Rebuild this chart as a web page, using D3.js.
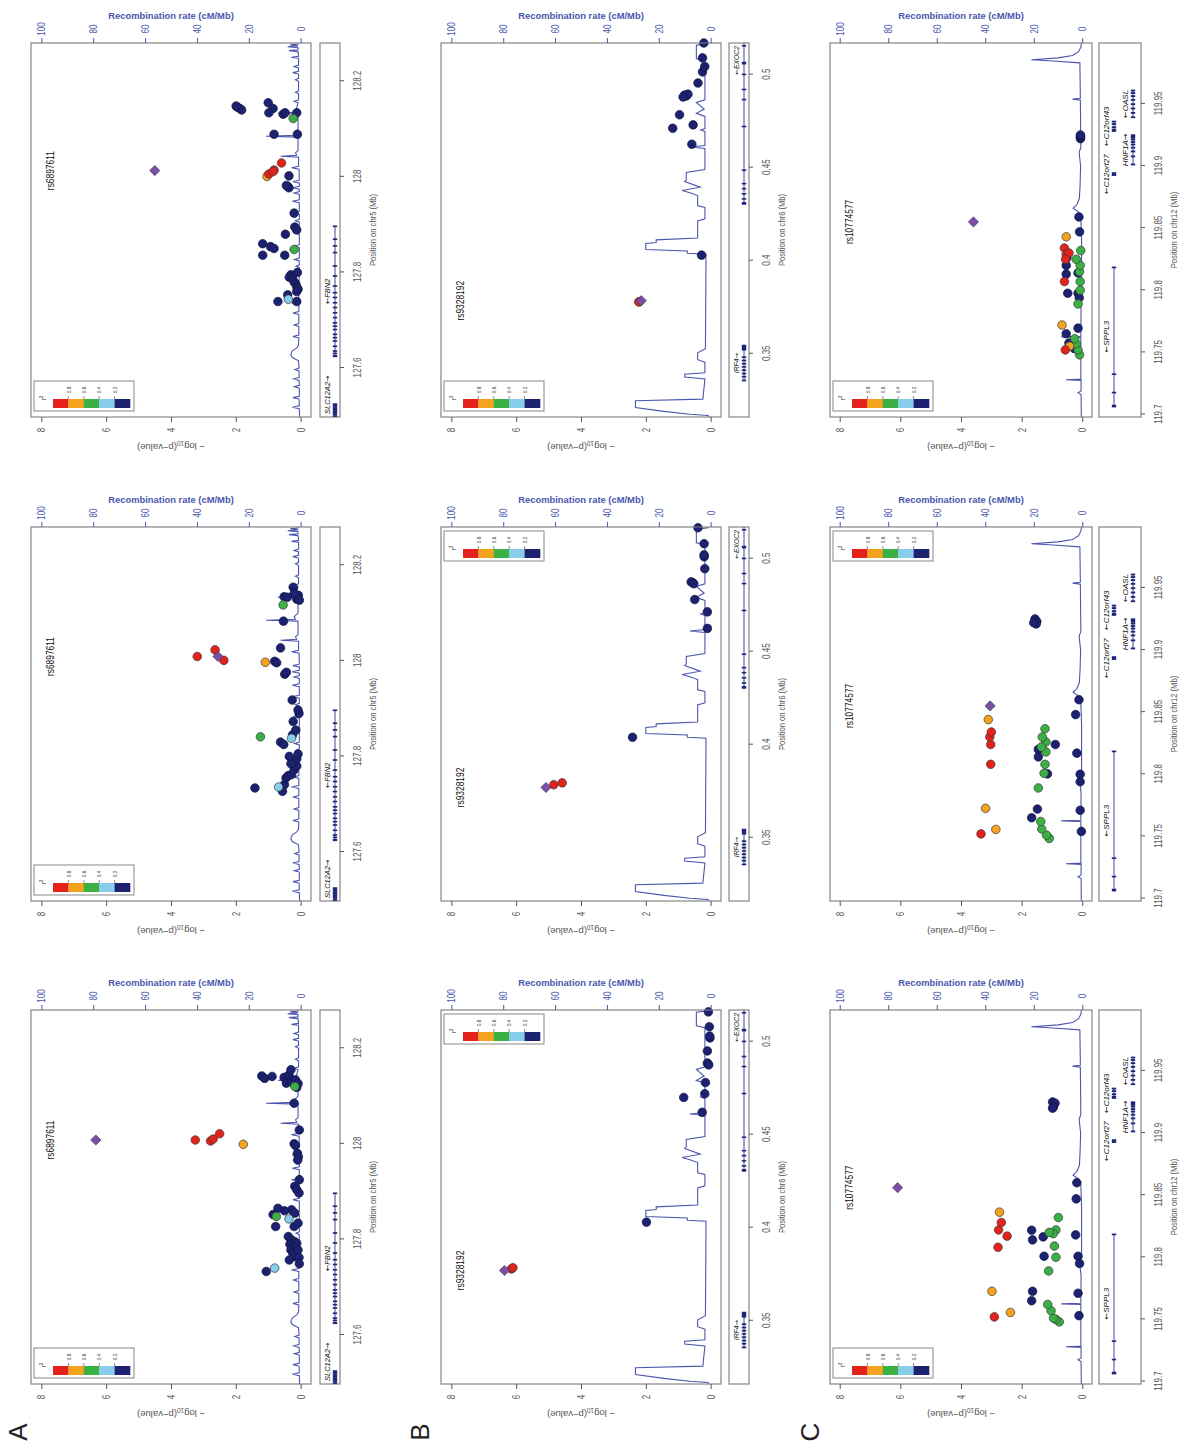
<!DOCTYPE html>
<html>
<head>
<meta charset="utf-8">
<script src="https://cdn.jsdelivr.net/npm/d3@7"></script>
<style>
  body { margin: 0; background: #fff; }
  text { font-family: "Liberation Sans", Arial, Helvetica, sans-serif; }
</style>
</head>
<body>
<svg id="fig" width="1181" height="1446"></svg>
<script>
// ===== DATA =====

// LD (r^2) classes: 0 = <0.2 ... 4 = >0.8, 5 = lead SNP
const ldBreaks = ['0.8', '0.6', '0.4', '0.2'];
const ldColors = ['#1c2170', '#88cdec', '#3bb044', '#f5a21e', '#e4221b'];
const leadColor = '#7b50a2';

const pvalTicks = [0, 2, 4, 6, 8];
const recombTicks = [0, 20, 40, 60, 80, 100];

const rangeA = [127.4975, 128.28];
const rangeB = [0.316, 0.517];
const rangeC = [119.698, 119.999];
const posTicksA = [127.6, 127.8, 128, 128.2];
const posTicksB = [0.35, 0.4, 0.45, 0.5];
const posTicksC = [119.7, 119.75, 119.8, 119.85, 119.9, 119.95];

// SNPs: [position Mb, -log10 p, LD class]
const snpsA1 = [
  [128.008, 6.32, 5],
  [128.008, 3.25, 4], [128.006, 2.78, 4], [128.010, 2.70, 4], [128.021, 2.50, 4],
  [127.999, 1.77, 3],
  [128.120, 0.18, 2], [127.848, 0.75, 2],
  [127.740, 0.80, 1], [127.843, 0.36, 1],
  [128.142, 1.20, 0], [128.137, 1.11, 0], [128.141, 0.88, 0], [128.139, 0.51, 0], [128.144, 0.36, 0],
  [128.127, 0.44, 0], [128.130, 0.28, 0], [128.134, 0.16, 0], [128.155, 0.30, 0], [128.118, 0.12, 0],
  [128.126, 0.08, 0], [128.085, 0.20, 0], [128.029, 0.04, 0], [128.000, 0.20, 0], [127.997, 0.16, 0],
  [127.980, 0.10, 0], [127.973, 0.07, 0], [127.966, 0.09, 0], [127.925, 0.04, 0], [127.911, 0.18, 0],
  [127.904, 0.12, 0], [127.897, 0.05, 0], [127.862, 0.28, 0], [127.855, 0.18, 0], [127.860, 0.50, 0],
  [127.865, 0.70, 0], [127.827, 0.77, 0], [127.852, 0.85, 0], [127.827, 0.20, 0], [127.834, 0.08, 0],
  [127.806, 0.38, 0], [127.799, 0.28, 0], [127.795, 0.18, 0], [127.792, 0.12, 0], [127.790, 0.33, 0],
  [127.785, 0.20, 0], [127.778, 0.30, 0], [127.771, 0.24, 0], [127.764, 0.16, 0], [127.757, 0.35, 0],
  [127.762, 0.05, 0], [127.778, 0.08, 0], [127.733, 1.06, 0], [127.749, 0.04, 0]
];
const snpsA2 = [
  [128.009, 2.55, 5],
  [128.009, 3.19, 4], [128.023, 2.64, 4], [128.001, 2.37, 4],
  [127.997, 1.09, 3],
  [127.841, 1.24, 2], [128.117, 0.54, 2],
  [127.736, 0.68, 1], [127.838, 0.28, 1],
  [127.734, 1.41, 0], [127.727, 0.56, 0], [127.741, 0.50, 0], [127.755, 0.45, 0], [127.760, 0.38, 0],
  [127.762, 0.28, 0], [127.772, 0.20, 0], [127.780, 0.12, 0], [127.790, 0.20, 0], [127.795, 0.12, 0],
  [127.805, 0.08, 0], [127.785, 0.30, 0], [127.800, 0.35, 0], [127.830, 0.62, 0], [127.825, 0.52, 0],
  [127.845, 0.25, 0], [127.855, 0.15, 0], [127.873, 0.23, 0], [127.890, 0.05, 0], [127.897, 0.08, 0],
  [127.918, 0.26, 0], [127.972, 0.49, 0], [127.976, 0.44, 0], [127.999, 0.80, 0], [127.996, 0.74, 0],
  [128.027, 0.62, 0], [128.083, 0.53, 0], [128.134, 0.51, 0], [128.133, 0.41, 0], [128.154, 0.23, 0],
  [128.129, 0.12, 0], [128.137, 0.07, 0], [128.127, 0.04, 0], [128.141, 0.20, 0]
];
const snpsA3 = [
  [128.013, 4.50, 5],
  [128.014, 0.82, 4], [128.029, 0.59, 4], [128.006, 0.98, 4], [128.011, 0.85, 4],
  [128.001, 1.04, 3],
  [128.122, 0.23, 2], [127.848, 0.20, 2],
  [127.744, 0.38, 1],
  [128.146, 1.95, 0], [128.143, 1.88, 0], [128.140, 1.82, 0], [128.148, 1.99, 0], [128.155, 1.00, 0],
  [128.143, 0.85, 0], [128.134, 0.98, 0], [128.131, 0.54, 0], [128.134, 0.48, 0], [128.134, 0.12, 0],
  [128.089, 0.82, 0], [128.089, 0.10, 0], [128.002, 0.36, 0], [127.980, 0.40, 0], [127.977, 0.36, 0],
  [127.982, 0.44, 0], [127.924, 0.20, 0], [127.895, 0.18, 0], [127.889, 0.12, 0], [127.880, 0.47, 0],
  [127.860, 1.17, 0], [127.854, 0.93, 0], [127.850, 0.82, 0], [127.836, 1.17, 0], [127.836, 0.49, 0],
  [127.795, 0.30, 0], [127.790, 0.35, 0], [127.787, 0.25, 0], [127.780, 0.20, 0], [127.776, 0.15, 0],
  [127.770, 0.12, 0], [127.765, 0.08, 0], [127.760, 0.12, 0], [127.753, 0.40, 0], [127.739, 0.70, 0],
  [127.739, 0.12, 0], [127.800, 0.10, 0]
];

const snpsB1 = [
  [0.3770, 6.36, 5], [0.3778, 6.15, 4], [0.3785, 6.10, 4],
  [0.4030, 1.98, 0], [0.4620, 0.26, 0], [0.4700, 0.83, 0], [0.4720, 0.18, 0], [0.4780, 0.16, 0],
  [0.4880, 0.08, 0], [0.4885, 0.10, 0], [0.4875, 0.06, 0], [0.4950, 0.10, 0], [0.5020, 0.02, 0],
  [0.5030, 0.03, 0], [0.5080, 0.04, 0], [0.5160, 0.07, 0]
];
const snpsB2 = [
  [0.3770, 5.08, 5], [0.3785, 4.84, 4], [0.3795, 4.58, 4],
  [0.4040, 2.41, 0], [0.4625, 0.10, 0], [0.4714, 0.10, 0], [0.4780, 0.49, 0], [0.4870, 0.55, 0],
  [0.4875, 0.60, 0], [0.4865, 0.52, 0], [0.4946, 0.18, 0], [0.5010, 0.20, 0], [0.5020, 0.20, 0],
  [0.5080, 0.20, 0], [0.5166, 0.39, 0]
];
const snpsB3 = [
  [0.3785, 2.14, 5], [0.3780, 2.20, 4], [0.3778, 2.22, 3],
  [0.4030, 0.28, 0], [0.4626, 0.58, 0], [0.4712, 1.17, 0], [0.4730, 0.54, 0], [0.4784, 0.96, 0],
  [0.4890, 0.80, 0], [0.4885, 0.75, 0], [0.4895, 0.70, 0], [0.4880, 0.85, 0], [0.4955, 0.39, 0],
  [0.5015, 0.25, 0], [0.5044, 0.18, 0], [0.5090, 0.25, 0], [0.5170, 0.21, 0]
];

const snpsC1 = [
  [119.856, 6.09, 5],
  [119.752, 2.90, 4], [119.808, 2.78, 4], [119.817, 2.48, 4], [119.822, 2.76, 4], [119.828, 2.67, 4],
  [119.7726, 2.98, 3], [119.7556, 2.37, 3], [119.8363, 2.73, 3],
  [119.748, 0.76, 2], [119.750, 0.87, 2], [119.751, 0.95, 2], [119.757, 1.03, 2], [119.762, 1.14, 2],
  [119.789, 1.11, 2], [119.800, 0.87, 2], [119.809, 0.92, 2], [119.822, 0.87, 2], [119.819, 0.96, 2],
  [119.820, 1.09, 2], [119.832, 0.79, 2],
  [119.753, 0.11, 0], [119.765, 1.67, 0], [119.7726, 1.64, 0], [119.771, 0.14, 0], [119.8008, 1.26, 0],
  [119.8008, 0.14, 0], [119.795, 0.09, 0], [119.814, 1.64, 0], [119.8218, 1.67, 0], [119.818, 0.22, 0],
  [119.8164, 1.29, 0], [119.847, 0.20, 0], [119.860, 0.18, 0], [119.925, 0.98, 0], [119.924, 0.90, 0],
  [119.921, 0.95, 0], [119.920, 0.98, 0]
];
const snpsC2 = [
  [119.855, 3.04, 5],
  [119.752, 3.34, 4], [119.808, 3.02, 4], [119.824, 3.02, 4], [119.830, 3.05, 4], [119.834, 3.00, 4],
  [119.7726, 3.19, 3], [119.7556, 2.85, 3], [119.844, 3.10, 3],
  [119.7484, 1.09, 2], [119.751, 1.18, 2], [119.756, 1.34, 2], [119.762, 1.37, 2], [119.789, 1.45, 2],
  [119.8008, 1.26, 2], [119.808, 1.23, 2], [119.818, 1.20, 2], [119.826, 1.20, 2], [119.8366, 1.23, 2],
  [119.822, 1.35, 2], [119.830, 1.32, 2],
  [119.754, 0.03, 0], [119.765, 1.67, 0], [119.772, 1.48, 0], [119.771, 0.07, 0], [119.794, 0.07, 0],
  [119.800, 0.07, 0], [119.8003, 1.15, 0], [119.817, 0.18, 0], [119.814, 1.45, 0], [119.820, 1.45, 0],
  [119.824, 0.89, 0], [119.848, 0.22, 0], [119.860, 0.11, 0], [119.925, 1.56, 0], [119.923, 1.50, 0],
  [119.921, 1.52, 0], [119.922, 1.60, 0]
];
const snpsC3 = [
  [119.855, 3.59, 5],
  [119.752, 0.56, 4], [119.807, 0.59, 4], [119.834, 0.59, 4], [119.829, 0.53, 4], [119.830, 0.44, 4],
  [119.825, 0.55, 4],
  [119.772, 0.67, 3], [119.755, 0.42, 3], [119.843, 0.53, 3],
  [119.748, 0.09, 2], [119.752, 0.14, 2], [119.757, 0.20, 2], [119.761, 0.25, 2], [119.789, 0.14, 2],
  [119.800, 0.07, 2], [119.807, 0.07, 2], [119.815, 0.09, 2], [119.820, 0.07, 2], [119.832, 0.05, 2],
  [119.825, 0.20, 2],
  [119.753, 0.26, 0], [119.7575, 0.44, 0], [119.765, 0.53, 0], [119.7695, 0.14, 0], [119.7976, 0.48, 0],
  [119.7976, 0.14, 0], [119.794, 0.10, 0], [119.813, 0.53, 0], [119.820, 0.53, 0], [119.826, 0.51, 0],
  [119.814, 0.14, 0], [119.847, 0.09, 0], [119.859, 0.11, 0], [119.922, 0.06, 0], [119.923, 0.06, 0],
  [119.924, 0.06, 0], [119.925, 0.06, 0]
];

// recombination rate: [position Mb, cM/Mb]
const recombA = [
  [127.497, 0.4], [127.515, 0.5], [127.518, 3.2], [127.521, 0.5], [127.535, 0.6], [127.538, 3], [127.541, 0.5],
  [127.558, 0.5], [127.561, 2.5], [127.564, 0.5], [127.574, 0.6], [127.577, 3], [127.580, 0.6], [127.594, 0.6],
  [127.597, 2.2], [127.600, 0.6], [127.615, 0.8], [127.622, 3.2], [127.628, 3.8], [127.636, 3.2], [127.642, 1.5],
  [127.648, 0.8], [127.663, 0.7], [127.666, 3], [127.669, 0.7], [127.687, 0.7], [127.690, 2.5], [127.693, 0.7],
  [127.712, 0.7], [127.715, 3], [127.718, 0.7], [127.733, 0.7], [127.736, 3.5], [127.739, 0.7], [127.754, 0.7],
  [127.757, 2.5], [127.760, 0.7], [127.775, 0.7], [127.778, 3], [127.781, 0.6], [127.810, 0.5], [127.813, 1.8],
  [127.816, 0.5], [127.824, 0.5], [127.827, 2.3], [127.830, 0.5], [127.852, 0.5], [127.855, 2.5], [127.858, 0.5],
  [127.880, 0.5], [127.883, 3], [127.886, 0.5], [127.905, 0.5], [127.908, 2], [127.911, 0.5], [127.922, 0.5],
  [127.925, 3.5], [127.928, 0.5], [127.946, 0.5], [127.949, 3.2], [127.952, 0.5], [127.963, 0.5], [127.966, 2.5],
  [127.969, 0.5], [127.974, 0.5], [127.977, 3.3], [127.980, 0.5], [127.987, 0.5], [127.990, 3], [127.993, 0.5],
  [128.016, 0.6], [128.019, 3.5], [128.022, 0.8], [128.041, 0.8], [128.043, 7.7], [128.045, 1.5], [128.050, 2],
  [128.055, 1], [128.083, 1], [128.085, 13.3], [128.087, 2], [128.092, 2.5], [128.100, 1], [128.131, 1],
  [128.133, 8.8], [128.135, 2], [128.145, 1.5], [128.155, 1], [128.158, 2.5], [128.161, 0.8], [128.174, 0.8],
  [128.177, 2], [128.180, 0.8], [128.200, 0.8], [128.203, 2], [128.206, 0.8], [128.215, 0.8], [128.218, 3],
  [128.221, 0.8], [128.228, 0.8], [128.231, 2.5], [128.234, 0.8], [128.248, 0.8], [128.250, 3.5], [128.252, 0.8],
  [128.262, 1], [128.264, 4.5], [128.266, 1], [128.270, 1], [128.272, 5], [128.274, 1], [128.276, 4],
  [128.278, 1], [128.280, 1]
];
const recombB = [
  [0.3160, 0.5], [0.3168, 1], [0.3175, 8], [0.3190, 18], [0.3211, 29], [0.3247, 29], [0.3256, 3],
  [0.3364, 2.2], [0.3375, 10], [0.3390, 10], [0.3398, 2.2], [0.3455, 2.2], [0.3468, 5], [0.3505, 5],
  [0.3527, 2], [0.3979, 1.8], [0.4035, 1.8], [0.4040, 9], [0.4052, 9], [0.4060, 25], [0.4093, 25],
  [0.4098, 21], [0.4112, 21], [0.4122, 5], [0.4214, 5], [0.4225, 2.2], [0.4286, 2.2], [0.4295, 5],
  [0.4350, 5], [0.4365, 8], [0.4377, 11], [0.4395, 4], [0.4425, 10], [0.4435, 9.4], [0.4474, 9.4],
  [0.4490, 2.2], [0.4603, 2.2], [0.4611, 8], [0.4619, 2.2], [0.4695, 2.2], [0.4702, 3.8], [0.4710, 2.2],
  [0.4775, 2.2], [0.4792, 5.5], [0.4815, 2.5], [0.4850, 5.5], [0.4865, 2.2], [0.5075, 2.2], [0.5085, 5.5],
  [0.5158, 5.5], [0.5166, 1], [0.5180, 1]
];
const recombC = [
  [119.698, 0.4], [119.716, 0.5], [119.7175, 1.8], [119.719, 0.5], [119.7275, 0.5], [119.728, 6.7],
  [119.7285, 0.6], [119.762, 0.6], [119.7625, 8.7], [119.763, 0.6], [119.785, 0.5], [119.790, 0.8],
  [119.797, 1.3], [119.800, 0.3], [119.840, 0.3], [119.858, 0.6], [119.863, 1.5], [119.866, 3.8],
  [119.869, 2.2], [119.874, 1.2], [119.885, 0.9], [119.900, 0.7], [119.911, 1.3], [119.915, 0.6],
  [119.953, 0.8], [119.9538, 4], [119.9545, 0.8], [119.983, 1], [119.9845, 12], [119.9855, 21],
  [119.987, 10], [119.989, 4], [119.992, 1.5], [119.996, 0.5], [119.999, 0.4]
];

// genes: strand, span, exons [start, end], track row
const genesA = [
  { name: 'SLC12A2', strand: 1, start: 127.420, end: 127.525, row: 0,
    exons: [[127.499, 127.5], [127.503, 127.504], [127.506, 127.507], [127.509, 127.510], [127.512, 127.513],
            [127.515, 127.516], [127.518, 127.519], [127.521, 127.522], [127.524, 127.525]] },
  { name: 'FBN2', strand: -1, start: 127.624, end: 127.897, row: 0,
    exons: [[127.624, 127.626], [127.630, 127.631], [127.635, 127.636], [127.645, 127.646], [127.656, 127.657],
            [127.663, 127.664], [127.670, 127.671], [127.680, 127.681], [127.687, 127.688], [127.694, 127.695],
            [127.705, 127.706], [127.715, 127.716], [127.726, 127.727], [127.736, 127.737], [127.747, 127.748],
            [127.757, 127.758], [127.771, 127.772], [127.792, 127.793], [127.813, 127.814], [127.841, 127.842],
            [127.855, 127.856], [127.869, 127.870], [127.896, 127.897]] }
];
const genesB = [
  { name: 'IRF4', strand: 1, start: 0.3355, end: 0.3545, row: 0,
    exons: [[0.3355, 0.3358], [0.3375, 0.3378], [0.3392, 0.3395], [0.3410, 0.3413], [0.3428, 0.3430],
            [0.3445, 0.3448], [0.3462, 0.3465], [0.3480, 0.3483], [0.3520, 0.3545]] },
  { name: 'EXOC2', strand: -1, start: 0.4304, end: 0.6400, row: 0,
    exons: [[0.4304, 0.4312], [0.4331, 0.4333], [0.4358, 0.4360], [0.4386, 0.4388], [0.4413, 0.4415],
            [0.4485, 0.4487], [0.4720, 0.4722], [0.4865, 0.4867], [0.4919, 0.4921], [0.5000, 0.5002],
            [0.5058, 0.5066], [0.5154, 0.5156]] }
];
const genesC = [
  { name: 'SPPL3', strand: -1, start: 119.7067, end: 119.8186, row: 0,
    exons: [[119.7062, 119.7074], [119.7175, 119.7178], [119.7323, 119.7326], [119.8182, 119.8186]] },
  { name: 'C12orf27', strand: -1, start: 119.8925, end: 119.8945, row: 0,
    exons: [[119.8925, 119.8945]] },
  { name: 'C12orf43', strand: -1, start: 119.928, end: 119.936, row: 0,
    exons: [[119.928, 119.9295], [119.931, 119.9315], [119.9335, 119.934], [119.9355, 119.936]] },
  { name: 'HNF1A', strand: 1, start: 119.901, end: 119.925, row: 1,
    exons: [[119.901, 119.9015], [119.9075, 119.908], [119.9115, 119.912], [119.9145, 119.915],
            [119.917, 119.9175], [119.919, 119.9195], [119.921, 119.9215], [119.9225, 119.925]] },
  { name: 'OASL', strand: -1, start: 119.939, end: 119.961, row: 1,
    exons: [[119.939, 119.9395], [119.9425, 119.943], [119.946, 119.9465], [119.9495, 119.95],
            [119.953, 119.9535], [119.956, 119.9565], [119.9585, 119.959], [119.9605, 119.961]] }
];

const loci = [
  { letter: 'A', chrom: 'chr5', lead: 'rs6897611', range: rangeA, ticks: posTicksA,
    recomb: recombA, genes: genesA, panels: [snpsA1, snpsA2, snpsA3] },
  { letter: 'B', chrom: 'chr6', lead: 'rs9328192', range: rangeB, ticks: posTicksB,
    recomb: recombB, genes: genesB, panels: [snpsB1, snpsB2, snpsB3] },
  { letter: 'C', chrom: 'chr12', lead: 'rs10774577', range: rangeC, ticks: posTicksC,
    recomb: recombC, genes: genesC, panels: [snpsC1, snpsC2, snpsC3] }
];

// ===== LAYOUT (un-rotated frame: u across, v down) =====
const panelLeft = [62, 545, 1029];
const panelWidth = 374;
const rows = [
  { top: 31, bottom: 311, geneTop: 320, geneBottom: 340, letterV: 18, geneFont: 7.5 },
  { top: 441, bottom: 721, geneTop: 729, geneBottom: 749, letterV: 420, geneFont: 6.8 },
  { top: 830, bottom: 1092, geneTop: 1099, geneBottom: 1141, letterV: 810, geneFont: 8 }
];
const legendSide = [['left', 'left', 'left'], ['right', 'right', 'left'], ['left', 'right', 'left']];

const SQ = 0.8;            // upright text looks narrow in the figure
const boxColor = '#7a7a7a';
const axisColor = '#555';
const recombColor = '#4a56ae';

const svg = d3.select('#fig');
const defs = svg.append('defs');
// whole figure is turned a quarter turn counter-clockwise
const root = svg.append('g').attr('transform', 'translate(0,1446) rotate(-90)');

function flatText(parent, u, v, str, size, fill) {
  const g = parent.append('g').attr('transform', `translate(${u},${v}) scale(${SQ},1)`);
  g.append('text')
    .attr('text-anchor', 'middle')
    .attr('dy', '0.35em')
    .attr('font-size', size)
    .attr('fill', fill || '#222')
    .text(str);
  return g;
}

function drawPanel(locus, li, pi) {
  const row = rows[li];
  const left = panelLeft[pi], right = left + panelWidth;
  const g = root.append('g');

  const x = d3.scaleLinear().domain(locus.range).range([left, right]);
  const y = d3.scaleLinear().domain([-0.32, 8.32]).range([row.bottom, row.top]);
  const yr = d3.scaleLinear().domain([-4, 104]).range([row.bottom, row.top]);

  const clipId = `clip-${li}-${pi}`;
  defs.append('clipPath').attr('id', clipId).append('rect')
    .attr('x', left).attr('y', row.top)
    .attr('width', panelWidth).attr('height', row.bottom - row.top);
  const geneClip = `gclip-${li}-${pi}`;
  defs.append('clipPath').attr('id', geneClip).append('rect')
    .attr('x', left).attr('y', row.geneTop)
    .attr('width', panelWidth).attr('height', row.geneBottom - row.geneTop);

  // recombination rate
  const line = d3.line().x(d => x(d[0])).y(d => yr(d[1]));
  g.append('path')
    .datum(locus.recomb)
    .attr('clip-path', `url(#${clipId})`)
    .attr('d', line)
    .attr('fill', 'none')
    .attr('stroke', recombColor)
    .attr('stroke-width', 1.1);

  // SNPs, low LD first
  const snps = locus.panels[pi].slice().sort((a, b) => a[2] - b[2]);
  g.append('g').selectAll('circle')
    .data(snps.filter(d => d[2] < 5))
    .join('circle')
    .attr('cx', d => x(d[0]))
    .attr('cy', d => y(d[1]))
    .attr('r', 4.3)
    .attr('fill', d => ldColors[d[2]])
    .attr('stroke', d => d[2] === 0 ? '#11153f' : '#3a3a3a')
    .attr('stroke-width', 0.7);

  const diamond = d3.symbol().type(d3.symbolSquare).size(52);
  g.append('g').selectAll('path')
    .data(snps.filter(d => d[2] === 5))
    .join('path')
    .attr('transform', d => `translate(${x(d[0])},${y(d[1])}) rotate(45)`)
    .attr('d', diamond)
    .attr('fill', leadColor)
    .attr('stroke', '#3a2a55')
    .attr('stroke-width', 0.6);

  // lead SNP name
  const lead = snps.find(d => d[2] === 5);
  flatText(g, x(lead[0]), row.top + 19, locus.lead, 10.5, '#111');

  // plot frame
  g.append('rect')
    .attr('x', left).attr('y', row.top)
    .attr('width', panelWidth).attr('height', row.bottom - row.top)
    .attr('fill', 'none').attr('stroke', boxColor).attr('stroke-width', 1.1);

  // -log10 p axis
  const ay = g.append('g')
    .attr('transform', `translate(${left},0)`)
    .attr('color', axisColor).attr('font-size', 9)
    .call(d3.axisLeft(y).tickValues(pvalTicks).tickSize(5).tickSizeOuter(0));
  ay.select('.domain').remove();
  ay.selectAll('text')
    .attr('text-anchor', 'middle')
    .attr('x', -13 / SQ)
    .attr('dy', '0.35em')
    .attr('transform', `scale(${SQ},1)`)
    .attr('fill', axisColor);

  const yl = g.append('text')
    .attr('transform', `translate(${left - 29},${(row.top + row.bottom) / 2}) rotate(-90)`)
    .attr('text-anchor', 'middle')
    .attr('dy', '0.35em')
    .attr('font-size', 9.5)
    .attr('fill', axisColor);
  yl.append('tspan').text('\u2212 log');
  yl.append('tspan').attr('font-size', 6.5).attr('dy', '0.3em').text('10');
  yl.append('tspan').attr('dy', '-0.3em').text('(p\u2212value)');

  // recombination axis
  const ar = g.append('g')
    .attr('transform', `translate(${right},0)`)
    .attr('color', recombColor).attr('font-size', 9)
    .call(d3.axisRight(yr).tickValues(recombTicks).tickSize(5).tickSizeOuter(0));
  ar.select('.domain').remove();
  ar.selectAll('text')
    .attr('text-anchor', 'middle')
    .attr('x', 14 / SQ)
    .attr('dy', '0.35em')
    .attr('transform', `scale(${SQ},1)`)
    .attr('fill', recombColor);

  g.append('text')
    .attr('transform', `translate(${right + 27},${(row.top + row.bottom) / 2}) rotate(90)`)
    .attr('text-anchor', 'middle')
    .attr('dy', '0.35em')
    .attr('font-size', 9.4)
    .attr('font-weight', 'bold')
    .attr('fill', recombColor)
    .text('Recombination rate (cM/Mb)');

  // legend
  const side = legendSide[li][pi];
  const lw = 30, lh = 100;
  const lx = side === 'left' ? left + 6 : right - 4 - lw;
  const lg = g.append('g').attr('transform', `translate(${lx},${row.top + 3})`);
  lg.append('rect').attr('width', lw).attr('height', lh)
    .attr('fill', '#fff').attr('stroke', boxColor).attr('stroke-width', 0.9);
  const seg = d3.scaleBand().domain(d3.range(5)).range([19, 96]);
  lg.selectAll('rect.seg')
    .data([4, 3, 2, 1, 0])
    .join('rect')
    .attr('class', 'seg')
    .attr('x', 3).attr('y', (d, i) => seg(i))
    .attr('width', 9).attr('height', seg.bandwidth() + 0.3)
    .attr('fill', d => ldColors[d]);
  lg.selectAll('line.brk')
    .data(ldBreaks)
    .join('line')
    .attr('class', 'brk')
    .attr('x1', 12).attr('x2', 15)
    .attr('y1', (d, i) => seg(i + 1)).attr('y2', (d, i) => seg(i + 1))
    .attr('stroke', '#444').attr('stroke-width', 0.6);
  ldBreaks.forEach((b, i) => flatText(lg, 21, seg(i + 1), b, 6, '#444'));
  const r2 = lg.append('g').attr('transform', `translate(13,9) scale(${SQ},1)`)
    .append('text').attr('text-anchor', 'middle').attr('dy', '0.35em')
    .attr('font-size', 7.5).attr('fill', '#222');
  r2.append('tspan').text('r');
  r2.append('tspan').attr('font-size', 5).attr('dy', '-0.45em').text('2');

  // gene track
  g.append('rect')
    .attr('x', left).attr('y', row.geneTop)
    .attr('width', panelWidth).attr('height', row.geneBottom - row.geneTop)
    .attr('fill', 'none').attr('stroke', boxColor).attr('stroke-width', 1.1);
  const gt = g.append('g').attr('clip-path', `url(#${geneClip})`);
  const labels = g.append('g');
  locus.genes.forEach(gene => {
    const gv = row.geneTop + 15 + gene.row * 19;
    gt.append('line')
      .attr('x1', x(gene.start)).attr('x2', x(gene.end))
      .attr('y1', gv).attr('y2', gv)
      .attr('stroke', '#2a318a').attr('stroke-width', 0.9);
    gt.selectAll(null)
      .data(gene.exons)
      .join('rect')
      .attr('x', d => x(d[0]) - 0.6)
      .attr('width', d => Math.max(1.6, x(d[1]) - x(d[0]) + 1.2))
      .attr('y', gv - 2.2).attr('height', 4.4)
      .attr('fill', '#1e2478');

    const lab = labels.append('g');
    const t = lab.append('text')
      .attr('text-anchor', 'middle').attr('dy', '0.35em')
      .attr('font-size', row.geneFont).attr('font-style', 'italic')
      .attr('fill', '#111');
    const arrow = gene.strand < 0 ? '\u2190' : '\u2192';
    if (gene.strand < 0) t.append('tspan').attr('font-family', 'DejaVu Sans').attr('font-style', 'normal').text(arrow);
    t.append('tspan').text(gene.name);
    if (gene.strand > 0) t.append('tspan').attr('font-family', 'DejaVu Sans').attr('font-style', 'normal').text(arrow);
    const w = t.node().getComputedTextLength();
    let c = x((gene.start + gene.end) / 2);
    c = Math.max(left + w / 2 + 3, Math.min(right - w / 2 - 3, c));
    lab.attr('transform', `translate(${c},${gv - 7.5})`);
  });

  // position axis
  const ax = g.append('g')
    .attr('transform', `translate(0,${row.geneBottom})`)
    .attr('color', axisColor).attr('font-size', 9)
    .call(d3.axisBottom(x).tickValues(locus.ticks).tickSize(4).tickSizeOuter(0).tickFormat(d3.format('')));
  ax.select('.domain').remove();
  ax.selectAll('text')
    .attr('y', 18)
    .attr('dy', '0.35em')
    .attr('transform', `scale(${SQ},1)`)
    .attr('fill', axisColor);

  flatText(g, (left + right) / 2, row.geneBottom + 33, `Position on ${locus.chrom} (Mb)`, 9.5, axisColor);
}

loci.forEach((locus, li) => {
  root.append('text')
    .attr('x', 14).attr('y', rows[li].letterV)
    .attr('text-anchor', 'middle').attr('dy', '0.35em')
    .attr('font-size', 26).attr('fill', '#222')
    .text(locus.letter);
  [0, 1, 2].forEach(pi => drawPanel(locus, li, pi));
});
</script>
</body>
</html>
